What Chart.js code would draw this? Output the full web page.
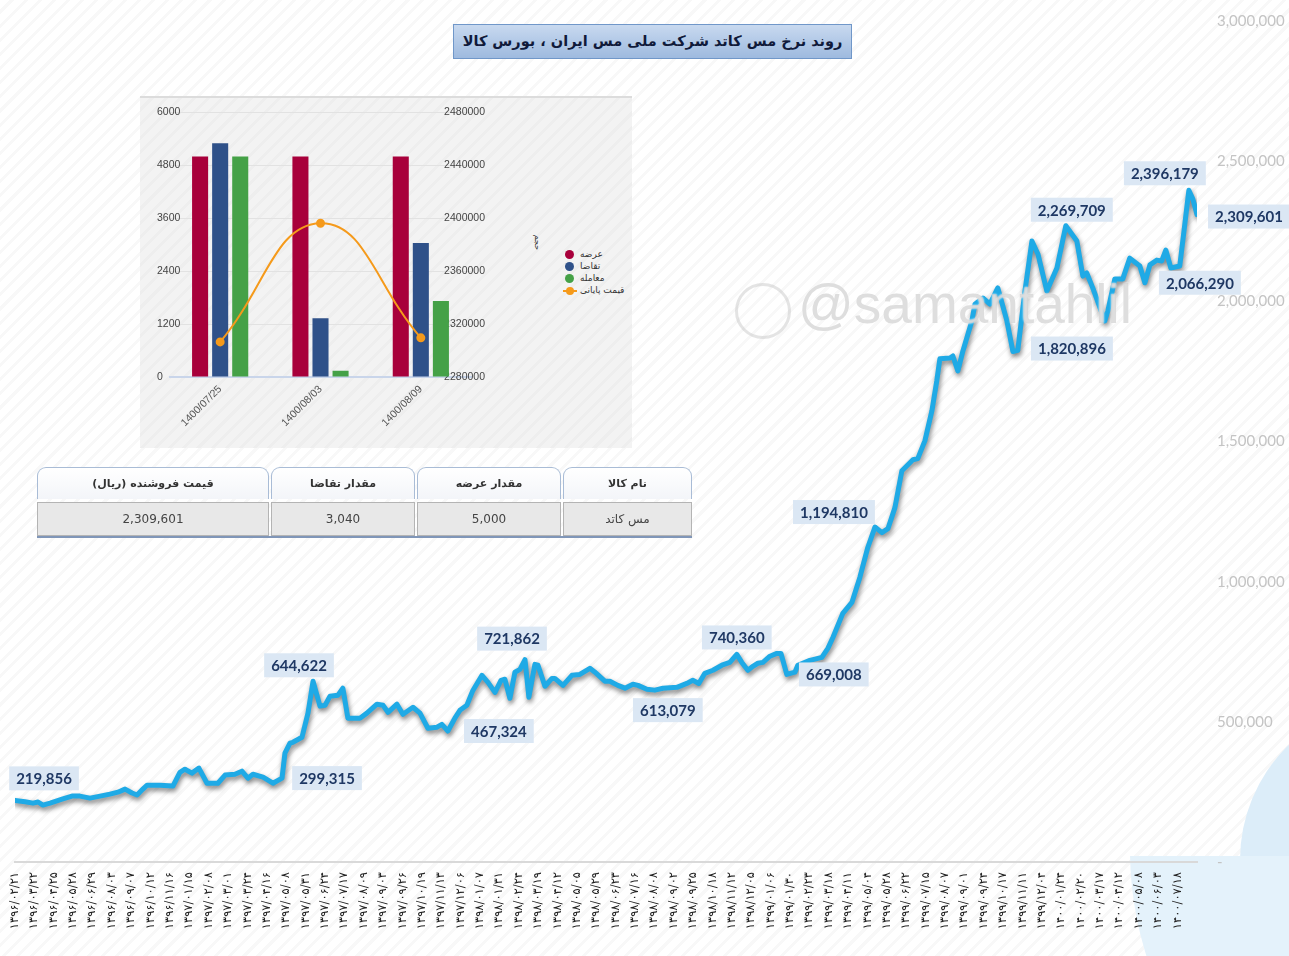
<!DOCTYPE html>
<html>
<head>
<meta charset="utf-8">
<script src="https://cdn.jsdelivr.net/npm/chart.js@4.4.1/dist/chart.umd.min.js"></script>
<style>
  html, body { margin: 0; padding: 0; }
  body {
    width: 1289px; height: 956px; position: relative; overflow: hidden;
    background: repeating-linear-gradient(135deg, #ffffff 0 7px, #f8f8f8 7px 10px);
  }
  .deco { position: absolute; border-radius: 50%; background: #e4f2fb; }
  #clipLow { position: absolute; left: 1100px; top: 856px; width: 189px; height: 100px; overflow: hidden; }
  #main { position: absolute; left: 0; top: -8px; }
  #title {
    position: absolute; left: 453px; top: 24px; width: 397px; height: 33px;
    background: linear-gradient(#c8d9ef, #9ebadf); border: 1px solid #7097c9;
    font: bold 14.5px "DejaVu Sans", sans-serif; color: #101a3a; white-space: nowrap;
    text-align: center; line-height: 33px; direction: rtl;
  }
  #inset {
    position: absolute; left: 140px; top: 96px; width: 492px; height: 352px;
    background: repeating-linear-gradient(135deg, #f3f3f3 0 7px, #eeeeee 7px 10px);
    border-top: 2px solid #dcdcdc; box-sizing: border-box;
  }
  #insetCanvas { position: absolute; left: 0; top: -6px; }
  .leg { position: absolute; font: 9px "DejaVu Sans", sans-serif; color: #333; direction: rtl; white-space: nowrap; }
  .dot { position: absolute; width: 9px; height: 9px; border-radius: 50%; }
  #tbl { position: absolute; left: 37px; top: 467px; width: 655px; direction: rtl; font-family: "DejaVu Sans", sans-serif; }
  .row { display: flex; gap: 2px; }
  .hd { height: 31px; line-height: 31px; text-align: center; font-weight: bold; font-size: 11px; color: #333;
        background: linear-gradient(#ffffff, #f3f5f9); border: 1px solid #a9bcd6; border-bottom: none; border-radius: 9px 9px 0 0; }
  .cell { height: 32px; line-height: 32px; text-align: center; font-size: 12px; color: #444;
          background: #e8e8e8; border: 1px solid #b4b4b4; margin-top: 3px; }
  #tblLine { height: 2px; background: #8096b8; }
  #wm { position: absolute; left: 798px; top: 272px; font: 55px "Liberation Sans", sans-serif;
        color: rgba(190,190,190,0.5); text-shadow: 0 0 2px #fff; white-space: nowrap; }
  #wmLogo { position: absolute; left: 735px; top: 283px; width: 50px; height: 50px; border-radius: 50%;
            border: 3px solid rgba(195,195,195,0.45); }
</style>
</head>
<body>
<div class="deco" style="left:1240px; top:700px; width:320px; height:320px; background:#dcedf9;"></div>
<div id="clipLow"><div class="deco" style="left:30px; top:-356px; width:700px; height:700px;"></div></div>

<canvas id="main" width="1289" height="964"></canvas>

<div id="wmLogo"></div>
<div id="wm">@samantahlil</div>

<div id="title">روند نرخ مس کاتد شرکت ملی مس ایران ، بورس کالا</div>

<div id="inset">
  <canvas id="insetCanvas" width="360" height="354"></canvas>
  <div class="leg" style="left:390px; top:140px; transform: rotate(90deg); font-size:8px;">حجم</div>
  <div class="dot" style="left:425px; top:152px; background:#a8003b;"></div>
  <div class="leg" style="left:440px; top:151px;">عرضه</div>
  <div class="dot" style="left:425px; top:164px; background:#2f5189;"></div>
  <div class="leg" style="left:440px; top:163px;">تقاضا</div>
  <div class="dot" style="left:425px; top:176px; background:#45a147;"></div>
  <div class="leg" style="left:440px; top:175px;">معامله</div>
  <div style="position:absolute; left:423px; top:192px; width:14px; height:2px; background:#f59a1b;"></div>
  <div class="dot" style="left:426px; top:189px; width:8px; height:8px; background:#f59a1b;"></div>
  <div class="leg" style="left:440px; top:187px;">قیمت پایانی</div>
</div>

<div id="tbl">
  <div class="row">
    <div class="hd" style="width:127px;">نام کالا</div>
    <div class="hd" style="width:142px;">مقدار عرضه</div>
    <div class="hd" style="width:142px;">مقدار تقاضا</div>
    <div class="hd" style="width:230px;">قیمت فروشنده (ریال)</div>
  </div>
  <div class="row">
    <div class="cell" style="width:127px;">مس کاتد</div>
    <div class="cell" style="width:142px;">5,000</div>
    <div class="cell" style="width:142px;">3,040</div>
    <div class="cell" style="width:230px;">2,309,601</div>
  </div>
  <div id="tblLine"></div>
</div>

<script>
// ---- main price series (x = position along the date axis, y = rial) ----
const dateLabels = [
  "1396/02/21","1396/03/22","1396/04/25","1396/05/28","1396/06/29","1396/08/03","1396/09/07","1396/10/12","1396/11/16",
  "1397/01/15","1397/02/08","1397/03/01","1397/03/24","1397/04/16","1397/05/08","1397/05/31","1397/06/24","1397/07/17",
  "1397/08/09","1397/09/03","1397/09/26","1397/10/19","1397/11/13","1397/12/06",
  "1398/01/07","1398/01/31","1398/02/24","1398/03/19","1398/04/12","1398/05/05","1398/05/29","1398/06/23","1398/07/16",
  "1398/08/08","1398/09/02","1398/09/25","1398/10/18","1398/11/12","1398/12/05",
  "1399/01/06","1399/01/30","1399/02/23","1399/03/18","1399/04/11","1399/05/04","1399/05/28","1399/06/22","1399/07/15",
  "1399/08/07","1399/09/01","1399/09/24","1399/10/17","1399/11/11","1399/12/04",
  "1400/01/24","1400/02/20","1400/03/17","1400/04/12","1400/05/08","1400/06/03","1400/07/18"
];

const priceX = [0,0.52,0.93,1.19,1.44,1.81,2.43,2.94,3.35,3.87,
  4.39,4.90,5.31,5.68,6.04,6.30,6.60,6.81,7.48,8.15,
  8.51,8.77,9.13,9.49,9.91,10.47,10.84,11.35,11.71,12.02,
  12.28,12.80,13.31,13.78,13.93,14.19,14.34,14.81,15.12,15.38,
  15.74,16.00,16.25,16.67,16.92,17.18,17.80,18.16,18.68,18.99,
  19.25,19.71,20.02,20.54,20.90,21.31,21.78,22.03,22.34,22.70,
  22.96,23.32,23.63,24.10,24.41,24.77,25.08,25.28,25.54,25.80,
  26.06,26.32,26.52,26.83,26.99,27.35,27.71,27.86,28.28,28.74,
  29.15,29.67,29.93,30.44,30.70,31.11,31.48,31.89,32.15,32.61,
  33.02,33.44,34.16,34.67,34.98,35.29,35.60,36.02,36.48,36.89,
  37.25,37.51,37.82,38.08,38.34,38.60,38.96,39.32,39.53,39.83,
  40.25,40.40,41.02,41.64,41.95,42.21,42.72,43.19,43.60,44.01,
  44.38,44.74,45.05,45.41,45.77,46.34,46.59,46.96,47.32,47.57,
  47.73,48.25,48.40,48.66,48.92,49.38,49.54,49.95,50.31,50.72,
  51.19,51.50,51.75,52.12,52.48,52.79,53.25,53.77,54.23,54.80,
  55.11,55.31,55.62,56.24,56.40,56.76,57.17,57.53,58.05,58.31,
  58.57,58.93,59.18,59.39,59.65,60.11,60.37,60.58,60.79,61.00];

const priceY = [219856,215000,210000,214000,203000,210000,224000,235000,235000,228000,
  235000,242000,249000,260000,246000,239000,260000,274000,274000,271000,
  320000,331000,317000,335000,281000,281000,310000,313000,324000,299000,
  313000,303000,281000,299315,388000,424000,427000,445000,531000,644622,
  556000,559000,591000,595000,620000,513000,513000,531000,563000,559000,
  534000,563000,527000,552000,531000,477000,481000,491000,467324,513000,
  541000,559000,612000,666000,641000,605000,648000,652000,584000,677000,
  687000,721862,588000,705000,702000,627000,655000,655000,630000,666000,
  669000,691000,677000,645000,645000,630000,620000,634000,630000,616000,
  613079,620000,623000,637000,648000,637000,673000,684000,702000,712000,
  740360,712000,684000,698000,709000,712000,734000,744000,744000,669008,
  677000,702000,719000,730000,762000,801000,887000,926000,1015000,1122000,
  1194810,1175000,1189000,1264000,1396000,1435000,1439000,1503000,1610000,1716000,
  1795000,1798000,1805000,1752000,1823000,1930000,1990000,2012000,1990000,2048000,
  1930000,1820896,1825000,2037000,2215000,2169000,2037000,2119000,2269709,2215000,
  2090000,2101000,2048000,1930000,1966000,2080000,2080000,2154000,2126000,2066290,
  2130000,2147000,2144000,2183000,2119000,2126000,2275000,2396179,2364000,2309601];

// values that carry a callout box on the chart
const calloutValues = [219856, 299315, 644622, 467324, 721862, 613079, 740360, 669008,
  1194810, 1820896, 2269709, 2066290, 2396179, 2309601];

// ---- inset: last three sessions ----
const sessionLabels = ["1400/07/25", "1400/08/03", "1400/08/09"];
const supplyVol = [5000, 5000, 5000];
const demandVol = [5300, 1330, 3040];
const tradeVol = [5000, 140, 1720];
const closePrice = [2306500, 2396179, 2309601];

const faDigits = "۰۱۲۳۴۵۶۷۸۹";
function toFa(s) { return s.replace(/[0-9]/g, d => faDigits[+d]); }

// shadow under the main line
const lineShadow = {
  id: "lineShadow",
  beforeDatasetDraw(chart) {
    const ctx = chart.ctx;
    ctx.save();
    ctx.shadowColor = "rgba(0,0,0,0.5)";
    ctx.shadowBlur = 5;
    ctx.shadowOffsetX = 1;
    ctx.shadowOffsetY = 3;
  },
  afterDatasetDraw(chart) { chart.ctx.restore(); }
};

// callout boxes, offset (px) from their point
const calloutOffsets = [[29,-22],[45,0],[-14,-16],[51,0],[-13,-21],[13,20],[0,-17],[47,0],
  [-41,-15],[59,-3],[6,-16],[55,0],[-24,-17],[52,2]];

const callouts = {
  id: "callouts",
  afterDatasetsDraw(chart) {
    const ctx = chart.ctx;
    const meta = chart.getDatasetMeta(0);
    ctx.save();
    ctx.font = "bold 15px Lato, sans-serif";
    ctx.textAlign = "center";
    ctx.textBaseline = "middle";
    calloutValues.forEach((v, k) => {
      const i = priceY.indexOf(v);
      if (i < 0) return;
      const pt = meta.data[i];
      const cx = pt.x + calloutOffsets[k][0];
      const cy = pt.y + calloutOffsets[k][1];
      const txt = v.toLocaleString("en-US");
      const w = ctx.measureText(txt).width + 14;
      ctx.fillStyle = "#dbe7f4";
      ctx.fillRect(cx - w / 2, cy - 12, w, 24);
      ctx.fillStyle = "#1f3864";
      ctx.fillText(txt, cx, cy + 1);
    });
    ctx.restore();
  }
};

new Chart(document.getElementById("main"), {
  type: "line",
  data: {
    datasets: [{
      data: priceX.map((x, i) => ({ x, y: priceY[i] })),
      borderColor: "#1faae6",
      borderWidth: 5,
      pointRadius: 0,
      tension: 0,
      borderJoinStyle: "round",
      borderCapStyle: "round"
    }]
  },
  options: {
    responsive: false,
    animation: false,
    layout: { padding: { left: 15, top: 11, right: 0, bottom: 0 } },
    plugins: { legend: { display: false }, tooltip: { enabled: false } },
    scales: {
      x: {
        type: "linear", min: 0, max: 61,
        grid: { display: false, drawTicks: false },
        border: { display: true, color: "#d9d9d9", width: 2 },
        ticks: {
          stepSize: 1, autoSkip: false, maxRotation: 90, minRotation: 90, padding: 10,
          color: "#222", font: { family: "DejaVu Sans", size: 11.5 },
          callback: v => dateLabels[Math.round(v)] ? toFa(dateLabels[Math.round(v)]) : ""
        },
        afterFit: s => { s.height = 94; }
      },
      y: {
        position: "right", min: 0, max: 3000000,
        grid: { display: false, drawTicks: false },
        border: { display: false },
        ticks: {
          stepSize: 500000, padding: 20, crossAlign: "near",
          color: "#c4c4c4", font: { family: "Lato", size: 15 },
          callback: v => v === 0 ? "-" : v.toLocaleString("en-US")
        },
        afterFit: s => { s.width = 92; }
      }
    }
  },
  plugins: [lineShadow, callouts]
});

new Chart(document.getElementById("insetCanvas"), {
  type: "bar",
  data: {
    labels: sessionLabels,
    datasets: [
      { type: "line", label: "قیمت پایانی", data: closePrice, yAxisID: "y2", order: 0,
        borderColor: "#f59a1b", backgroundColor: "#f59a1b", borderWidth: 2, tension: 0.45,
        pointRadius: 3.5 },
      { label: "عرضه", data: supplyVol, backgroundColor: "#a8003b", order: 1 },
      { label: "تقاضا", data: demandVol, backgroundColor: "#2f5189", order: 1 },
      { label: "معامله", data: tradeVol, backgroundColor: "#45a147", order: 1 }
    ]
  },
  options: {
    responsive: false,
    animation: false,
    layout: { padding: { left: 17, top: 9, right: 0, bottom: 0 } },
    plugins: { legend: { display: false }, tooltip: { enabled: false } },
    datasets: { bar: { categoryPercentage: 0.6, barPercentage: 0.8 } },
    scales: {
      x: {
        grid: { display: false, drawTicks: false },
        border: { display: true, color: "#c9d5ea", width: 2 },
        ticks: { maxRotation: 45, minRotation: 45, padding: 6, color: "#555",
                 font: { family: "Liberation Sans", size: 10.5 } },
        afterFit: s => { s.height = 69; }
      },
      y: {
        position: "left", min: 0, max: 6000,
        grid: { color: "#e2e2e2", drawTicks: false },
        border: { display: false },
        ticks: { stepSize: 1200, mirror: true, crossAlign: "near", padding: -13, color: "#444",
                 font: { family: "Liberation Sans", size: 10.5 },
                 callback: v => String(v) },
        afterFit: s => { s.width = 13; }
      },
      y2: {
        position: "right", min: 2280000, max: 2480000,
        grid: { display: false, drawTicks: false },
        border: { display: false },
        ticks: { stepSize: 40000, mirror: true, crossAlign: "near", padding: 14, color: "#444",
                 font: { family: "Liberation Sans", size: 10.5 },
                 callback: v => String(v) },
        afterFit: s => { s.width = 29; }
      }
    }
  }
});
</script>
</body>
</html>
